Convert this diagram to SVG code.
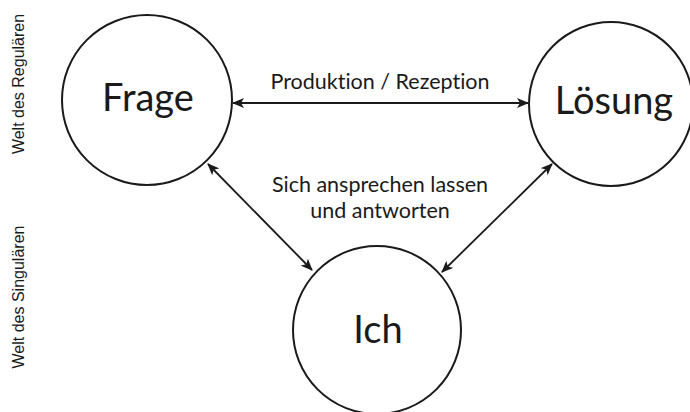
<svg xmlns="http://www.w3.org/2000/svg" width="690" height="412" viewBox="0 0 690 412">
<style>
.node{fill:none;stroke:#1a1a1a;stroke-width:2}
.big{font-family:Lato,"Liberation Sans",sans-serif;font-size:38px;fill:#1a1a1a;text-anchor:middle}
.lbl{font-family:Lato,"Liberation Sans",sans-serif;font-size:21.5px;fill:#1a1a1a;text-anchor:middle;font-variant-ligatures:none}
.side{font-family:"Liberation Sans",sans-serif;font-size:16px;fill:#1a1a1a;text-anchor:middle}
.conn{fill:none;stroke:#1a1a1a;stroke-width:1.8}
</style>
<defs>
<marker id="ah" viewBox="0 0 12 10" refX="11" refY="5" markerWidth="12" markerHeight="10" markerUnits="userSpaceOnUse" orient="auto-start-reverse">
<path d="M0,0 L12,5 L0,10 L3,5 Z" fill="#1a1a1a"/>
</marker>
</defs>
<rect width="690" height="412" fill="#ffffff"/>
<text class="side" transform="translate(24,84) rotate(-90)">Welt des Regulären</text>
<text class="side" transform="translate(24,297) rotate(-90)">Welt des Singulären</text>
<g id="frage">
<circle class="node" cx="147" cy="100" r="85"/>
<text class="big" x="148" y="111">Frage</text>
</g>
<g id="loesung">
<circle class="node" cx="611" cy="104" r="82"/>
<text class="big" x="614" y="114">Lösung</text>
</g>
<g id="ich">
<circle class="node" cx="377" cy="330" r="84"/>
<text class="big" x="378" y="343">Ich</text>
</g>
<g id="connectors">
<line class="conn" x1="233" y1="103" x2="528" y2="103" marker-start="url(#ah)" marker-end="url(#ah)"/>
<line class="conn" x1="208" y1="164" x2="312" y2="270" marker-start="url(#ah)" marker-end="url(#ah)"/>
<line class="conn" x1="552" y1="164" x2="442" y2="272" marker-start="url(#ah)" marker-end="url(#ah)"/>
<text class="lbl" x="380" y="89">Produktion / Rezeption</text>
<text class="lbl" x="380" y="192">Sich ansprechen lassen</text>
<text class="lbl" x="380" y="218">und antworten</text>
</g>
</svg>
